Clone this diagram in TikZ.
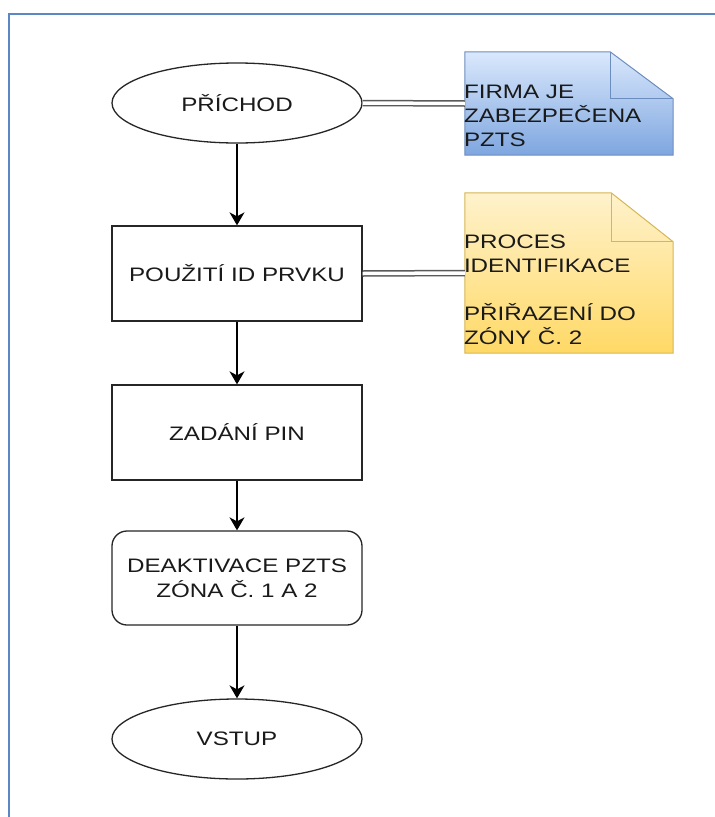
\documentclass[tikz,border=0pt]{standalone}
\usepackage{fontspec}
\setmainfont{Liberation Sans}[FakeStretch=1.24]
\usetikzlibrary{shapes.geometric,arrows.meta}

\definecolor{frameblue}{HTML}{5B87C5}
\definecolor{bluetop}{HTML}{DAE8FC}
\definecolor{bluebot}{HTML}{7EA6E0}
\definecolor{blueline}{HTML}{6C8EBF}
\definecolor{yeltop}{HTML}{FFF2CC}
\definecolor{yelbot}{HTML}{FFD966}
\definecolor{yelline}{HTML}{D6B656}
\definecolor{txt}{HTML}{1A1A1A}

\tikzset{
  base/.style={draw=black!85, line width=1.3pt, fill=white, text=txt,
    inner sep=0pt, align=center, minimum width=250pt,
    font=\fontsize{19.5}{25}\selectfont},
  terminal/.style={base, ellipse, minimum height=80pt},
  process/.style={base, rectangle, minimum height=95pt},
  roundproc/.style={base, rectangle, rounded corners=15pt, minimum height=94pt},
  notebox/.style={rectangle, inner sep=0pt, minimum width=208pt},
  notetext/.style={inner sep=0pt, align=left, text=txt, anchor=west,
    font=\fontsize{19.5}{24}\selectfont},
  flow/.style={draw=black, line width=1.3pt,
    -{Stealth[length=13pt, width=15pt, inset=4pt]}},
  dbl/.style={draw=black!65, line width=1.5pt, double=white,
    double distance=3.5pt},
}

\begin{document}
\begin{tikzpicture}[x=1pt, y=-1pt]
  \useasboundingbox (0,0) rectangle (715,817);
  \fill[white] (0,0) rectangle (715,817);

  % outer frame (only top and left edges fall inside the page)
  \draw[frameblue, line width=2.5pt] (9,830) -- (9,14) -- (730,14);

  % flow nodes
  \node[terminal]  (prichod) at (237,103)   {PŘÍCHOD};
  \node[process]   (pouziti) at (237,273.5) {POUŽITÍ ID PRVKU};
  \node[process]   (pin)     at (237,432.5) {ZADÁNÍ PIN};
  \node[roundproc] (deakt)   at (237,578)   {DEAKTIVACE PZTS\\ZÓNA Č. 1 A 2};
  \node[terminal]  (vstup)   at (237,739)   {VSTUP};

  % note anchors
  \node[notebox, minimum height=103pt] (note1) at (569,103.5) {};
  \node[notebox, minimum height=160pt] (note2) at (569,273) {};

  % blue note with folded corner
  \shade[top color=bluetop, bottom color=bluebot]
    (note1.north west) -- ([xshift=-63pt]note1.north east)
    -- ([yshift=-47pt]note1.north east) -- (note1.south east)
    -- (note1.south west) -- cycle;
  \draw[blueline, line width=1pt, line join=miter]
    (note1.north west) -- ([xshift=-63pt]note1.north east)
    -- ([yshift=-47pt]note1.north east) -- (note1.south east)
    -- (note1.south west) -- cycle;
  \draw[blueline, line width=1pt]
    ([xshift=-63pt]note1.north east) -- ([xshift=-63pt, yshift=-47pt]note1.north east)
    -- ([yshift=-47pt]note1.north east);
  \node[notetext] (t1) at ([xshift=-1pt, yshift=-12.5pt]note1.west)
    {FIRMA JE\\ZABEZPEČENA\\PZTS};

  % yellow note with folded corner
  \shade[top color=yeltop, bottom color=yelbot]
    (note2.north west) -- ([xshift=-62pt]note2.north east)
    -- ([yshift=-49pt]note2.north east) -- (note2.south east)
    -- (note2.south west) -- cycle;
  \draw[yelline, line width=1pt, line join=miter]
    (note2.north west) -- ([xshift=-62pt]note2.north east)
    -- ([yshift=-49pt]note2.north east) -- (note2.south east)
    -- (note2.south west) -- cycle;
  \draw[yelline, line width=1pt]
    ([xshift=-62pt]note2.north east) -- ([xshift=-62pt, yshift=-49pt]note2.north east)
    -- ([yshift=-49pt]note2.north east);
  \node[notetext] (t2) at ([xshift=-1pt, yshift=-16.5pt]note2.west)
    {PROCES\\IDENTIFIKACE\\[24pt]PŘIŘAZENÍ DO\\ZÓNY Č. 2};

  % flow arrows
  \draw[flow] (prichod) -- (pouziti);
  \draw[flow] (pouziti) -- (pin);
  \draw[flow] (pin) -- (deakt);
  \draw[flow] (deakt) -- (vstup);

  % note links
  \draw[dbl] (prichod.east) -- (note1.west);
  \draw[dbl] (pouziti.east) -- (note2.west);
\end{tikzpicture}
\end{document}
